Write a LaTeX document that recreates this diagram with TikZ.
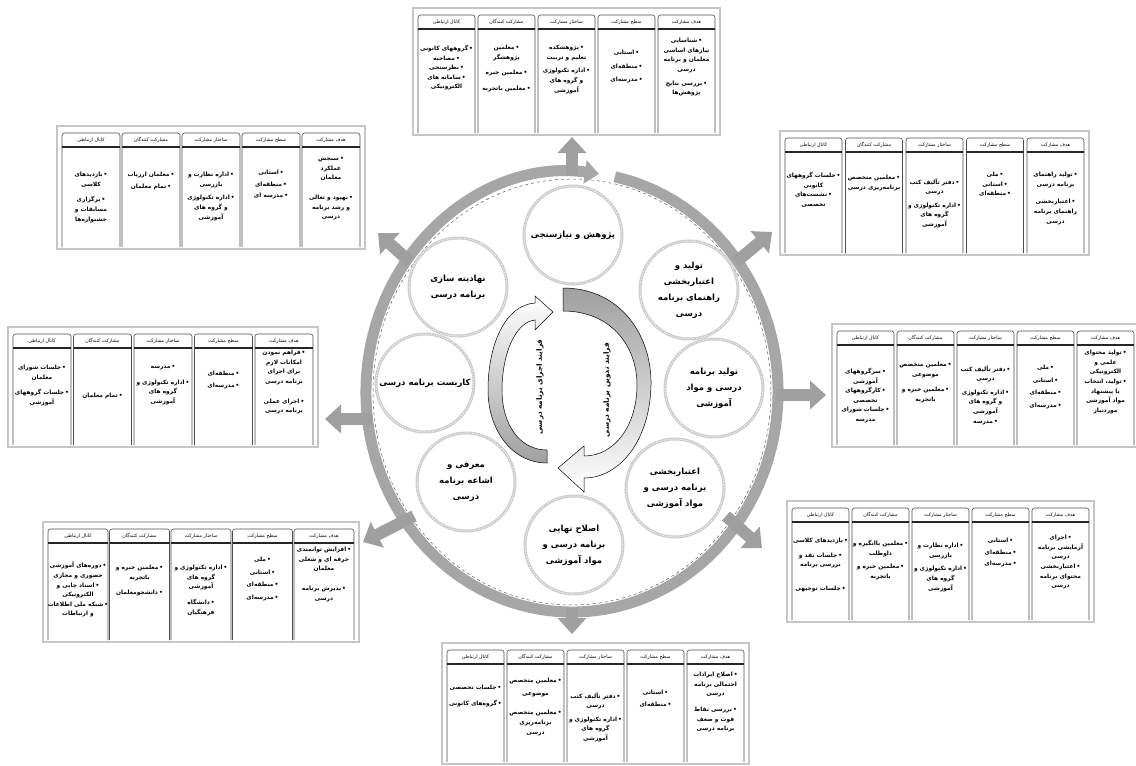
\documentclass[tikz,border=0pt]{standalone}
\usepackage{fontspec}
\newfontfamily\arabicfont[Script=Arabic]{DejaVu Sans}
\TeXXeTstate=1
\usetikzlibrary{calc,arrows.meta}
\newcommand\fa[1]{\beginR#1\endR}
\newcommand\bu{•\kern1pt}
\tikzset{
  cell/.style={font=\arabicfont\bfseries\fontsize{5.9}{9.6}\selectfont, align=center, inner sep=0pt, anchor=north},
  hdr/.style={font=\arabicfont\fontsize{4.8}{5}\selectfont, inner sep=0pt},
  tframe/.style={draw=gray!45, line width=1.4pt},
  tcol/.style={draw=black!70, line width=0.6pt, rounded corners=2.5pt},
  thdr/.style={draw=black!85, line width=1.1pt},
  stage/.style={circle, minimum size=98pt, draw=gray!40, line width=3pt,
    postaction={draw=white, line width=0.7pt, dash pattern=on 1.2pt off 1.6pt},
    font=\arabicfont\bfseries\fontsize{8.5}{16}\selectfont, align=center, inner sep=0pt},
  proc/.style={font=\arabicfont\bfseries\fontsize{7.3}{9}\selectfont, inner sep=0pt},
  ringst/.style={draw=gray!70, line width=11pt, -{Triangle[width=23pt,length=14pt]}},
  outarr/.style={draw=gray!75, line width=12pt, -{Triangle[width=28pt,length=16pt]}},
  crescent/.style={draw=black, line width=0.5pt}
}
\newcommand\tbl[6]{%
  \draw[tframe] (#2-5,#5-7) rectangle (#2+4*#3+#4+5,#6+2);
  \foreach \i/\h in {0/کانال ارتباطی,1/مشارکت کنندگان,2/ساختار مشارکت,3/سطح مشارکت,4/هدف مشارکت}{%
    \pgfmathsetmacro\xa{#2+\i*#3}%
    \pgfmathsetmacro\xb{\xa+#4}%
    \pgfmathsetmacro\xm{\xa+#4/2}%
    \draw[tcol] (\xa,#6) -- (\xa,#5) -- (\xb,#5) -- (\xb,#6);
    \draw[thdr] (\xa,#5+14) -- (\xb,#5+14);
    \node[hdr] (#1h\i) at (\xm,#5+7) {\fa{\h}};
    \coordinate (#1-\i) at (\xm,#5+14);
  }%
}
\begin{document}
\begin{tikzpicture}[x=1pt,y=-1pt]
\useasboundingbox (0,0) rectangle (1136,766);

% ---- ring ----
\coordinate (C) at (572,392);
\draw[gray!70!black, dashed, line width=0.5pt] (C) ellipse [x radius=199, y radius=213];
\draw[ringst] (C) ++(-78:206 and 220) arc[start angle=-78, end angle=277.5, x radius=206, y radius=220];

% ---- outward arrows ----
\coordinate (aT0) at (572,176);  \coordinate (aT1) at (572,137);
\coordinate (aTR0) at (736,262); \coordinate (aTR1) at (772,232);
\coordinate (aR0) at (776,395);  \coordinate (aR1) at (826,395);
\coordinate (aBR0) at (726,516); \coordinate (aBR1) at (762,548);
\coordinate (aB0) at (572,608);  \coordinate (aB1) at (572,634);
\coordinate (aBL0) at (414,516); \coordinate (aBL1) at (363,542);
\coordinate (aL0) at (372,419);  \coordinate (aL1) at (325,419);
\coordinate (aTL0) at (410,262); \coordinate (aTL1) at (378,233);
\foreach \a in {T,TR,R,BR,B,BL,L,TL}{\draw[outarr] (a\a0) -- (a\a1);}

% ---- inner stage circles ----
\node[stage] (s1) at (573,235) {\fa{پژوهش و نیازسنجی}};
\node[stage] (s2) at (689,290) {\fa{تولید و}\\\fa{اعتباربخشی}\\\fa{راهنمای برنامه}\\\fa{درسی}};
\node[stage] (s3) at (714,388) {\fa{تولید برنامه}\\\fa{درسی و مواد}\\\fa{آموزشی}};
\node[stage] (s4) at (675,488) {\fa{اعتباربخشی}\\\fa{برنامه درسی و}\\\fa{مواد آموزشی}};
\node[stage] (s5) at (574,545) {\fa{اصلاح نهایی}\\\fa{برنامه درسی و}\\\fa{مواد آموزشی}};
\node[stage] (s6) at (466,482) {\fa{معرفی و}\\\fa{اشاعه برنامه}\\\fa{درسی}};
\node[stage] (s7) at (425,383) {\fa{کاربست برنامه درسی}};
\node[stage] (s8) at (458,287) {\fa{نهادینه سازی}\\\fa{برنامه درسی}};

% ---- central curved arrows ----
\draw[crescent, top color=gray!75, bottom color=white]
  (563,288) .. controls (620,288) and (652,335) .. (651,385)
  .. controls (650,440) and (620,478) .. (584,478)
  -- (584,492) -- (558,468) -- (584,446) -- (584,456)
  .. controls (615,456) and (637,425) .. (637,385)
  .. controls (637,345) and (610,311) .. (563,311) -- cycle;
\draw[crescent, top color=white, bottom color=gray!75]
  (547,463) .. controls (512,463) and (488,430) .. (488,390)
  .. controls (488,345) and (505,305) .. (535,303)
  -- (535,296) -- (553,312) -- (535,330) -- (535,320)
  .. controls (515,322) and (502,355) .. (502,390)
  .. controls (502,425) and (520,450) .. (547,450) -- cycle;
\node[proc, rotate=90] (p1) at (607,390) {\fa{فرایند تدوین برنامه درسی}};
\node[proc, rotate=90] (p2) at (540,387) {\fa{فرایند اجرای برنامه درسی}};

% ---- tables ----
\tbl{T1}{418}{60}{57}{15}{133}
\node[cell] (T1c4) at ($(T1-4)+(0,9)$) {\fa{\bu شناسایی}\\\fa{نیازهای اساسی}\\\fa{معلمان و برنامه}\\\fa{درسی}\\[4pt]\fa{\bu بررسی نتایج}\\\fa{پژوهش‌ها}};
\node[cell] (T1c3) at ($(T1-3)+(0,21)$) {\fa{\bu استانی}\\[4pt]\fa{\bu منطقه‌ای}\\[4pt]\fa{\bu مدرسه‌ای}};
\node[cell] (T1c2) at ($(T1-2)+(0,16)$) {\fa{\bu پژوهشکده}\\\fa{تعلیم و تربیت}\\[4pt]\fa{\bu اداره تکنولوژی}\\\fa{و گروه های}\\\fa{آموزشی}};
\node[cell] (T1c1) at ($(T1-1)+(0,16)$) {\fa{\bu معلمین}\\\fa{پژوهشگر}\\[6pt]\fa{\bu معلمین خبره}\\[6pt]\fa{\bu معلمین باتجربه}};
\node[cell] (T1c0) at ($(T1-0)+(0,16)$) {\fa{\bu گروههای کانونی}\\\fa{\bu مصاحبه}\\\fa{\bu نظرسنجی}\\\fa{\bu سامانه های}\\\fa{الکترونیکی}};

\tbl{T2}{785}{60.5}{57}{138}{253}
\node[cell] (T2c4) at ($(T2-4)+(0,20)$) {\fa{\bu تولید راهنمای}\\\fa{برنامه درسی}\\[8pt]\fa{\bu اعتباربخشی}\\\fa{راهنمای برنامه}\\\fa{درسی}};
\node[cell] (T2c3) at ($(T2-3)+(0,20)$) {\fa{\bu ملی}\\\fa{\bu استانی}\\\fa{\bu منطقه‌ای}};
\node[cell] (T2c2) at ($(T2-2)+(0,26)$) {\fa{\bu دفتر تألیف کتب}\\\fa{درسی}\\[4pt]\fa{\bu اداره تکنولوژی و}\\\fa{گروه های}\\\fa{آموزشی}};
\node[cell] (T2c1) at ($(T2-1)+(0,23)$) {\fa{\bu معلمین متخصص}\\\fa{برنامه‌ریزی درسی}};
\node[cell] (T2c0) at ($(T2-0)+(0,20)$) {\fa{\bu جلسات گروههای}\\\fa{کانونی}\\\fa{\bu نشست‌های}\\\fa{تخصصی}};

\tbl{T3}{837}{60}{57}{331}{445}
\node[cell] (T3c4) at ($(T3-4)+(0,5)$) {\fa{\bu تولید محتوای}\\\fa{علمی و}\\\fa{الکترونیکی}\\\fa{\bu تولید، انتخاب}\\\fa{یا پیشنهاد}\\\fa{مواد آموزشی}\\\fa{موردنیاز}};
\node[cell] (T3c3) at ($(T3-3)+(0,20)$) {\fa{\bu ملی}\\[3pt]\fa{\bu استانی}\\[3pt]\fa{\bu منطقه‌ای}\\[3pt]\fa{\bu مدرسه‌ای}};
\node[cell] (T3c2) at ($(T3-2)+(0,20)$) {\fa{\bu دفتر تألیف کتب}\\\fa{درسی}\\[4pt]\fa{\bu اداره تکنولوژی}\\\fa{و گروه های}\\\fa{آموزشی}\\\fa{\bu مدرسه}};
\node[cell] (T3c1) at ($(T3-1)+(0,17)$) {\fa{\bu معلمین متخصص}\\\fa{موضوعی}\\[6pt]\fa{\bu معلمین خبره و}\\\fa{باتجربه}};
\node[cell] (T3c0) at ($(T3-0)+(0,23)$) {\fa{\bu سرگروههای}\\\fa{آموزشی}\\\fa{\bu کارگروههای}\\\fa{تخصصی}\\\fa{\bu جلسات شورای}\\\fa{مدرسه}};

\tbl{T4}{792}{60}{57}{508}{620}
\node[cell] (T4c4) at ($(T4-4)+(0,13)$) {\fa{\bu اجرای}\\\fa{آزمایشی برنامه}\\\fa{درسی}\\\fa{\bu اعتباربخشی}\\\fa{محتوای برنامه}\\\fa{درسی}};
\node[cell] (T4c3) at ($(T4-3)+(0,16)$) {\fa{\bu استانی}\\[2pt]\fa{\bu منطقه‌ای}\\[2pt]\fa{\bu مدرسه‌ای}};
\node[cell] (T4c2) at ($(T4-2)+(0,21)$) {\fa{\bu اداره نظارت و}\\\fa{بازرسی}\\[4pt]\fa{\bu اداره تکنولوژی و}\\\fa{گروه های}\\\fa{آموزشی}};
\node[cell] (T4c1) at ($(T4-1)+(0,18)$) {\fa{\bu معلمین باانگیزه و}\\\fa{داوطلب}\\[4pt]\fa{\bu معلمین خبره و}\\\fa{باتجربه}};
\node[cell] (T4c0) at ($(T4-0)+(0,16)$) {\fa{\bu بازدیدهای کلاسی}\\[5pt]\fa{\bu جلسات نقد و}\\\fa{بررسی برنامه}\\[14pt]\fa{\bu جلسات توجیهی}};

\tbl{T5}{447}{60}{57}{650}{762}
\node[cell] (T5c4) at ($(T5-4)+(0,8)$) {\fa{\bu اصلاح ایرادات}\\\fa{احتمالی برنامه}\\\fa{درسی}\\[6pt]\fa{\bu بررسی نقاط}\\\fa{قوت و ضعف}\\\fa{برنامه درسی}};
\node[cell] (T5c3) at ($(T5-3)+(0,26)$) {\fa{\bu استانی}\\[2pt]\fa{\bu منطقه‌ای}};
\node[cell] (T5c2) at ($(T5-2)+(0,28)$) {\fa{\bu دفتر تألیف کتب}\\\fa{درسی}\\[4pt]\fa{\bu اداره تکنولوژی و}\\\fa{گروه های}\\\fa{آموزشی}};
\node[cell] (T5c1) at ($(T5-1)+(0,14)$) {\fa{\bu معلمین متخصص}\\[3pt]\fa{موضوعی}\\[10pt]\fa{\bu معلمین متخصص}\\\fa{برنامه‌ریزی}\\\fa{درسی}};
\node[cell] (T5c0) at ($(T5-0)+(0,21)$) {\fa{\bu جلسات تخصصی}\\[6pt]\fa{\bu گروه‌های کانونی}};

\tbl{T6}{48}{61.5}{60}{529}{640}
\node[cell] (T6c4) at ($(T6-4)+(0,4)$) {\fa{\bu افزایش توانمندی}\\\fa{حرفه ای و شغلی}\\\fa{معلمان}\\[10pt]\fa{\bu پذیرش برنامه}\\\fa{درسی}};
\node[cell] (T6c3) at ($(T6-3)+(0,14)$) {\fa{\bu ملی}\\[3pt]\fa{\bu استانی}\\[3pt]\fa{\bu منطقه‌ای}\\[3pt]\fa{\bu مدرسه‌ای}};
\node[cell] (T6c2) at ($(T6-2)+(0,22)$) {\fa{\bu اداره تکنولوژی و}\\\fa{گروه های}\\\fa{آموزشی}\\[6pt]\fa{\bu دانشگاه}\\\fa{فرهنگیان}};
\node[cell] (T6c1) at ($(T6-1)+(0,22)$) {\fa{\bu معلمین خبره و}\\\fa{باتجربه}\\[6pt]\fa{\bu دانشجومعلمان}};
\node[cell] (T6c0) at ($(T6-0)+(0,19)$) {\fa{\bu دوره‌های آموزشی}\\\fa{حضوری و مجازی}\\\fa{\bu اسناد چاپی و}\\\fa{الکترونیکی}\\\fa{\bu شبکه ملی اطلاعات}\\\fa{و ارتباطات}};

\tbl{T7}{13}{60.5}{58}{334}{445}
\node[cell] (T7c4) at ($(T7-4)+(0,2)$) {\fa{\bu فراهم نمودن}\\\fa{امکانات لازم}\\\fa{برای اجرای}\\\fa{برنامه درسی}\\[10pt]\fa{\bu اجرای عملی}\\\fa{برنامه درسی}};
\node[cell] (T7c3) at ($(T7-3)+(0,23)$) {\fa{\bu منطقه‌ای}\\[2pt]\fa{\bu مدرسه‌ای}};
\node[cell] (T7c2) at ($(T7-2)+(0,17)$) {\fa{\bu مدرسه}\\[6pt]\fa{\bu اداره تکنولوژی و}\\\fa{گروه های}\\\fa{آموزشی}};
\node[cell] (T7c1) at ($(T7-1)+(0,45)$) {\fa{\bu تمام معلمان}};
\node[cell] (T7c0) at ($(T7-0)+(0,17)$) {\fa{\bu جلسات شورای}\\\fa{معلمان}\\[6pt]\fa{\bu جلسات گروههای}\\\fa{آموزشی}};

\tbl{T8}{62}{60}{58}{133}{247}
\node[cell] (T8c4) at ($(T8-4)+(0,10)$) {\fa{\bu سنجش}\\\fa{عملکرد}\\\fa{معلمان}\\[10pt]\fa{\bu بهبود و تعالی}\\\fa{و رشد برنامه}\\\fa{درسی}};
\node[cell] (T8c3) at ($(T8-3)+(0,23)$) {\fa{\bu استانی}\\[2pt]\fa{\bu منطقه‌ای}\\[2pt]\fa{\bu مدرسه ای}};
\node[cell] (T8c2) at ($(T8-2)+(0,25)$) {\fa{\bu اداره نظارت و}\\\fa{بازرسی}\\[4pt]\fa{\bu اداره تکنولوژی}\\\fa{و گروه های}\\\fa{آموزشی}};
\node[cell] (T8c1) at ($(T8-1)+(0,25)$) {\fa{\bu معلمان ارزیاب}\\[2pt]\fa{\bu تمام معلمان}};
\node[cell] (T8c0) at ($(T8-0)+(0,25)$) {\fa{\bu بازدیدهای}\\\fa{کلاسی}\\[6pt]\fa{\bu برگزاری}\\\fa{مسابقات و}\\\fa{جشنواره‌ها}};
\end{tikzpicture}
\end{document}
